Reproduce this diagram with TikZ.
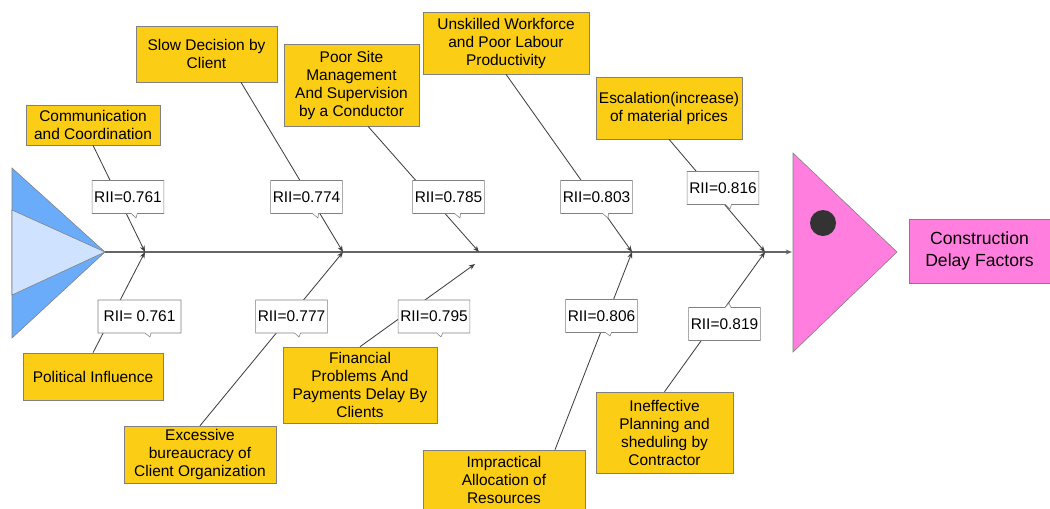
\documentclass[tikz,border=0pt]{standalone}
\usepackage{fontspec}
\setmainfont{Liberation Sans}
\usetikzlibrary{shapes.callouts,arrows.meta,calc}
\definecolor{causa}{RGB}{251,205,20}
\definecolor{bordo}{RGB}{128,128,128}
\definecolor{coda}{RGB}{106,172,250}
\definecolor{codachiara}{RGB}{207,226,255}
\definecolor{testa}{RGB}{255,126,222}
\definecolor{occhio}{RGB}{51,51,51}
\begin{document}
\begin{tikzpicture}[x=0.025cm,y=-0.025cm,
        causebox/.style={draw=bordo, fill=causa, align=center, inner sep=0pt, font=\fontsize{11}{12.8}\selectfont},
        riibox/.style={rectangle callout, draw=bordo, fill=white, inner xsep=1.5pt, minimum height=0.825cm, font=\fontsize{11}{13}\selectfont, callout pointer width=0.15cm},
        bone/.style={draw=black!75, line width=0.6pt, -{Stealth[length=4.5pt,width=3.5pt]}}]
        \useasboundingbox (0,0) rectangle (1050,508);
        %coda
        \draw[bordo, fill=coda] (12,168) -- (105,252) -- (12,338) -- cycle;
        \draw[bordo, fill=codachiara] (12,210) -- (105,252) -- (12,295) -- cycle;
        \coordinate (tail) at (105,252);
        %testa
        \draw[bordo, fill=testa] (793,153) -- (897,252) -- (793,352) -- cycle;
        \fill[occhio] (823,223) circle (13);
        \coordinate (hd) at (792,252);
        %spina
        \draw[black!60, line width=1pt, -{Stealth[length=4.5pt,width=3.5pt]}] (tail) -- (hd);
        \coordinate (j1) at (145,252);
        \coordinate (j2) at (343,252);
        \coordinate (j3) at (479,252);
        \coordinate (j4) at (632,252);
        \coordinate (j5) at (765,252);
        \coordinate (fend) at (475,264);
        %cause sopra
        \node[causebox, minimum width=3.35cm, minimum height=1.0cm] (c1) at (93,125) {Communication\\and Coordination};
        \node[causebox, minimum width=3.525cm, minimum height=1.4cm] (c2) at (206.5,54) {Slow Decision by\\Client};
        \node[causebox, minimum width=3.375cm, minimum height=2.05cm] (c3) at (351.5,85) {Poor Site\\Management\\And Supervision\\by a Conductor};
        \node[causebox, minimum width=4.15cm, minimum height=1.55cm] (c4) at (506,43) {Unskilled Workforce\\and Poor Labour\\Productivity};
        \node[causebox, minimum width=3.65cm, minimum height=1.55cm] (c5) at (669,108) {Escalation(increase)\\of material prices};
        %cause sotto
        \node[causebox, minimum width=3.5cm, minimum height=1.175cm] (c6) at (93,376.5) {Political Influence};
        \node[causebox, minimum width=3.8cm, minimum height=1.425cm] (c7) at (200,454.5) {Excessive\\bureaucracy of\\Client Organization};
        \node[causebox, minimum width=3.85cm, minimum height=1.9cm] (c8) at (360,385) {Financial\\Problems And\\Payments Delay By\\Clients};
        \node[causebox, minimum width=4.05cm, minimum height=1.5cm] (c9) at (504,480) {Impractical\\Allocation of\\Resources};
        \node[causebox, minimum width=3.425cm, minimum height=2.025cm] (c10) at (664.5,432.5) {Ineffective\\Planning and\\sheduling by\\Contractor};
        %lische
        \draw[bone] (c1.south) -- (j1);
        \draw[bone] (c6.north) -- (j1);
        \draw[bone] ($(c2.south)+(34.5,0)$) -- (j2);
        \draw[bone] (c7.north) -- (j2);
        \draw[bone] ($(c3.south)+(16.5,0)$) -- (j3);
        \draw[bone] (c8.north) -- (fend);
        \draw[bone] (c4.south) -- (j4);
        \draw[bone] ($(c9.north)+(51,0)$) -- (j4);
        \draw[bone] (c5.south) -- (j5);
        \draw[bone] (c10.north) -- (j5);
        %valori RII
        \node[riibox, callout absolute pointer={(136,218)}] (r1) at (128,197) {RII=0.761};
        \node[riibox, callout absolute pointer={(318,218)}] (r2) at (306.5,197) {RII=0.774};
        \node[riibox, callout absolute pointer={(460,218)}] (r3) at (448.5,197) {RII=0.785};
        \node[riibox, callout absolute pointer={(608,218)}] (r4) at (596.5,197) {RII=0.803};
        \node[riibox, callout absolute pointer={(730,209)}] (r5) at (723,188) {RII=0.816};
        \node[riibox, minimum width=2.075cm, callout absolute pointer={(150,337)}] (r6) at (139.5,316.5) {RII= 0.761};
        \node[riibox, callout absolute pointer={(299,337)}] (r7) at (291.5,316.5) {RII=0.777};
        \node[riibox, callout absolute pointer={(441,337)}] (r8) at (434,316.5) {RII=0.795};
        \node[riibox, callout absolute pointer={(610,336)}] (r9) at (601.5,316) {RII=0.806};
        \node[riibox, callout absolute pointer={(729,303)}] (r10) at (724.5,324) {RII=0.819};
        %effetto
        \node[draw=bordo, fill=testa, align=center, inner sep=0pt, minimum width=3.525cm, minimum height=1.6cm, font=\fontsize{12.5}{15.4}\selectfont] (eff) at (979.5,251) {Construction\\Delay Factors};
    \end{tikzpicture}
\end{document}
